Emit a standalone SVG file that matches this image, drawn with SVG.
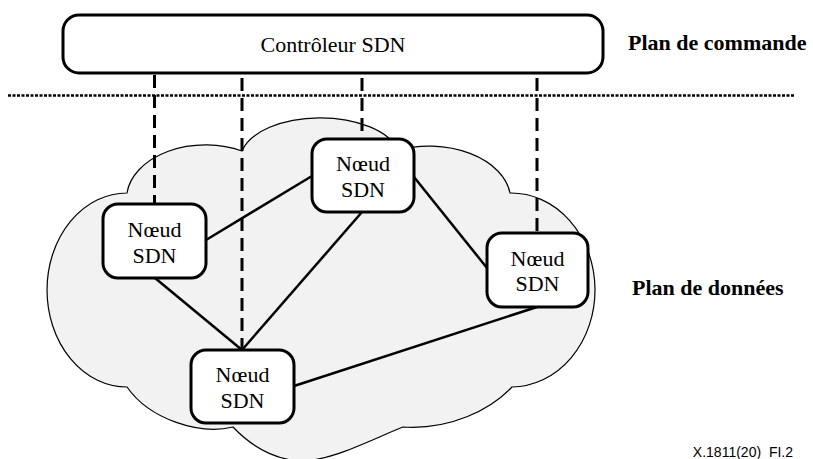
<svg xmlns="http://www.w3.org/2000/svg" width="813" height="459" viewBox="0 0 813 459">
<style>
rect.box{fill:#fff;stroke:#000;stroke-width:3}
text.nt{font-family:'Liberation Serif','Times New Roman',serif;font-size:22px;text-anchor:middle;fill:#000}
.solid{stroke:#000;stroke-width:2.5;fill:none}
.dash{stroke:#000;stroke-width:3;stroke-dasharray:13 7;fill:none}
text.label{font-family:'Liberation Serif','Times New Roman',serif;font-size:22px;font-weight:bold;fill:#000}
</style>
<rect x="0" y="0" width="813" height="459" fill="#fff"/>
<g id="cloud">
<path d="M127,193 A79,54 0 0 1 242,151 A80,42 0 0 1 398,150 A82,54 0 0 1 510,193 A84,97 0 0 1 512,387 C490,410 450,430 403,427 C370,440 330,462 298,461 C270,458 250,445 233,427 C200,435 150,420 127,387 A80,97 0 0 1 127,193 Z" fill="#f2f2f2" stroke="#000" stroke-width="1.2"/>
</g>
<line id="separator" x1="8" y1="95.5" x2="795" y2="95.5" stroke="#000" stroke-width="2.5" stroke-dasharray="3 1.5"/>
<g id="connectors">
<line class="dash" x1="154.5" y1="75" x2="154.5" y2="204"/>
<line class="dash" x1="242" y1="78" x2="242" y2="350"/>
<line class="dash" x1="362" y1="78" x2="362" y2="139"/>
<line class="dash" x1="537" y1="78" x2="537" y2="233"/>
<line class="solid" x1="206" y1="240" x2="312" y2="176"/>
<line class="solid" x1="155" y1="278" x2="242" y2="350"/>
<line class="solid" x1="362" y1="212" x2="242" y2="350"/>
<line class="solid" x1="414" y1="177" x2="487" y2="268"/>
<line class="solid" x1="294" y1="386" x2="537" y2="307"/>
</g>
<g id="controller">
<rect class="box" x="63" y="15" width="540" height="58" rx="16" ry="16" stroke-width="2.5"/>
<text class="nt" x="333" y="52" font-family="Liberation Serif, Times New Roman, serif" font-size="22">Contrôleur SDN</text>
</g>
<g id="node1">
<rect class="box" x="103" y="204" width="103" height="74" rx="15" ry="15"/>
<text class="nt" x="154.5" y="237" font-family="Liberation Serif, Times New Roman, serif" font-size="22">Nœud</text>
<text class="nt" x="154.5" y="263" font-family="Liberation Serif, Times New Roman, serif" font-size="22">SDN</text>
</g>
<g id="node2">
<rect class="box" x="312" y="139" width="102" height="73" rx="15" ry="15"/>
<text class="nt" x="363" y="171" font-family="Liberation Serif, Times New Roman, serif" font-size="22">Nœud</text>
<text class="nt" x="363" y="197" font-family="Liberation Serif, Times New Roman, serif" font-size="22">SDN</text>
</g>
<g id="node3">
<rect class="box" x="487" y="233" width="101" height="74" rx="15" ry="15"/>
<text class="nt" x="537.5" y="265.5" font-family="Liberation Serif, Times New Roman, serif" font-size="22">Nœud</text>
<text class="nt" x="537.5" y="291" font-family="Liberation Serif, Times New Roman, serif" font-size="22">SDN</text>
</g>
<g id="node4">
<rect class="box" x="191" y="350" width="103" height="73" rx="15" ry="15"/>
<text class="nt" x="242.5" y="382" font-family="Liberation Serif, Times New Roman, serif" font-size="22">Nœud</text>
<text class="nt" x="242.5" y="408" font-family="Liberation Serif, Times New Roman, serif" font-size="22">SDN</text>
</g>
<text class="label" x="628" y="50">Plan de commande</text>
<text class="label" x="632" y="295">Plan de données</text>
<text x="793" y="457" text-anchor="end" font-family="Liberation Sans, Arial, sans-serif" font-size="14" fill="#000">X.1811(20)_FI.2</text>
</svg>
